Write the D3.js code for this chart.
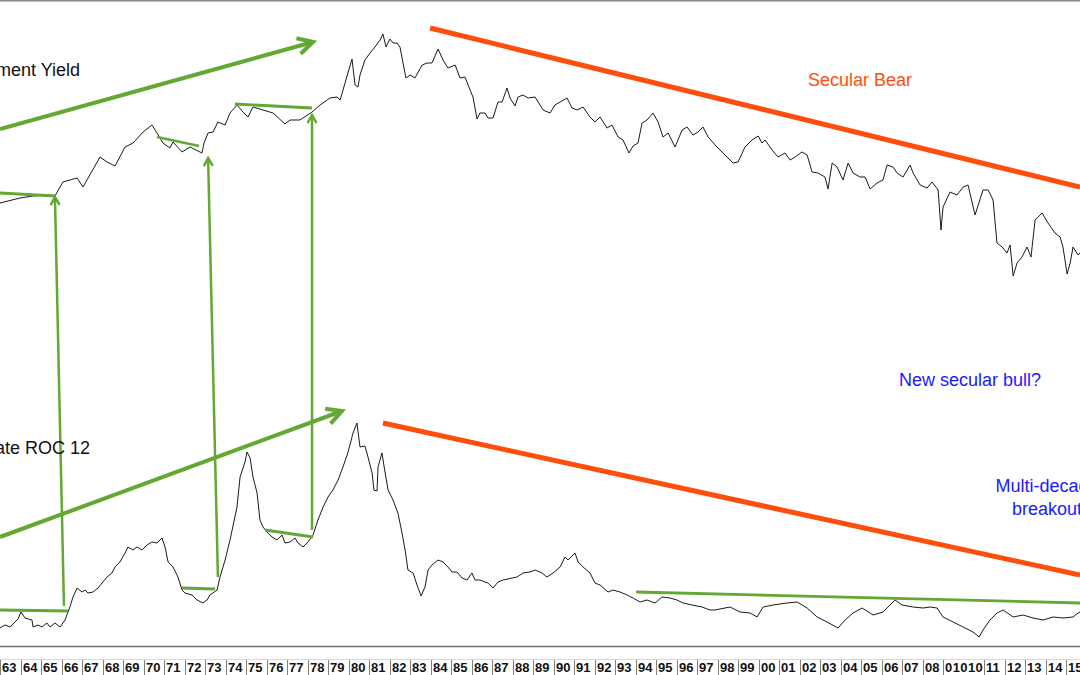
<!DOCTYPE html>
<html>
<head>
<meta charset="utf-8">
<script src="https://cdn.jsdelivr.net/npm/d3@7"></script>
<style>
  html, body { margin: 0; padding: 0; background: #fff; }
  svg { display: block; font-family: Arial, "Liberation Sans", sans-serif; }
</style>
</head>
<body>
<svg id="chart" width="1080" height="675"></svg>
<script>
// ---------- DATA ----------
// Upper panel: government bond yield (%)
const yieldDates = [1962.90,1963.88,1964.51,1965.34,1965.58,1965.97,1966.66,1966.95,1967.78,1968.12,1968.51,1969.00,1969.39,1969.88,1970.31,1970.56,1970.85,1971.19,1971.34,1971.78,1972.17,1972.75,1972.85,1973.05,1973.29,1973.53,1973.88,1974.12,1974.46,1974.75,1975.00,1975.24,1975.73,1976.22,1976.80,1977.05,1977.53,1978.12,1978.51,1979.00,1979.34,1979.49,1979.73,1980.07,1980.22,1980.36,1980.46,1980.70,1980.95,1981.19,1981.44,1981.58,1981.73,1981.92,1982.07,1982.27,1982.41,1982.70,1982.90,1983.14,1983.49,1983.73,1983.97,1984.27,1984.51,1984.75,1985.10,1985.34,1985.58,1985.83,1985.97,1986.17,1986.31,1986.56,1986.70,1986.95,1987.19,1987.39,1987.63,1987.78,1988.02,1988.17,1988.41,1988.66,1989.00,1989.39,1989.73,1989.97,1990.22,1990.56,1990.80,1991.05,1991.34,1991.68,1991.92,1992.17,1992.51,1992.75,1993.05,1993.29,1993.58,1993.78,1994.02,1994.22,1994.46,1994.75,1995.00,1995.24,1995.49,1995.83,1996.17,1996.41,1996.70,1996.95,1997.19,1997.44,1997.78,1998.02,1998.36,1998.66,1998.90,1999.24,1999.58,1999.88,2000.07,2000.22,2000.56,2000.85,2001.19,2001.44,2001.68,2002.02,2002.27,2002.51,2002.80,2003.14,2003.29,2003.49,2003.73,2004.02,2004.27,2004.51,2004.85,2005.10,2005.34,2005.68,2005.97,2006.17,2006.46,2006.66,2006.95,2007.29,2007.44,2007.78,2008.12,2008.36,2008.66,2008.80,2008.90,2009.24,2009.58,2009.88,2010.12,2010.46,2010.85,2011.10,2011.34,2011.53,2011.78,2012.02,2012.17,2012.32,2012.51,2012.75,2013.00,2013.19,2013.39,2013.73,2014.02,2014.36,2014.61,2014.75,2014.95,2015.10,2015.24,2015.49,2015.58];
const yieldValues = [4.85,5.10,5.20,5.25,5.20,5.90,6.10,5.65,7.15,6.90,6.70,7.65,7.85,8.40,8.75,8.35,7.85,7.60,7.90,7.40,7.65,7.35,7.85,8.35,8.40,8.90,8.75,9.35,9.75,9.40,9.15,9.65,9.50,9.35,8.80,9.00,9.00,9.40,9.75,10.10,10.15,10.00,10.85,12.05,10.75,10.65,11.25,12.00,12.35,12.65,13.00,13.30,12.65,13.05,12.85,12.85,12.65,11.10,11.25,11.10,11.75,11.85,11.85,12.55,12.00,11.60,11.75,11.10,11.15,10.50,10.15,9.05,9.35,9.35,9.10,9.10,9.90,9.90,10.60,10.10,9.70,10.15,10.25,10.10,10.15,9.50,9.35,9.75,9.90,10.10,9.60,9.50,9.65,9.15,8.90,9.15,8.60,8.75,8.15,8.00,7.35,7.70,7.85,8.85,9.00,9.35,8.90,8.15,8.35,7.65,8.50,8.65,8.25,8.40,8.65,8.15,7.75,7.50,7.15,6.85,6.90,7.65,8.00,8.20,7.85,8.00,7.50,7.15,7.35,7.00,7.15,7.40,7.25,6.40,6.35,6.15,5.55,6.85,6.65,6.00,6.85,6.35,6.15,6.15,5.55,5.85,6.00,6.75,6.65,6.35,6.15,6.75,6.35,5.75,5.60,5.90,5.50,3.50,4.65,5.40,5.25,5.65,5.75,4.25,5.50,5.50,5.00,2.85,2.65,2.35,2.75,1.20,1.85,2.15,2.65,2.15,4.00,4.35,3.85,3.35,3.15,2.65,1.30,1.85,2.65,2.25,2.35];

// Lower panel: inflation rate, 12-month rate of change (%)
const rocDates = [1962.90,1963.14,1963.39,1963.63,1963.78,1963.92,1964.12,1964.46,1964.51,1964.75,1964.95,1965.19,1965.34,1965.58,1965.83,1966.07,1966.31,1966.46,1966.66,1966.90,1967.05,1967.19,1967.44,1967.68,1967.88,1968.12,1968.36,1968.51,1968.75,1969.00,1969.14,1969.39,1969.58,1969.83,1970.07,1970.31,1970.56,1970.80,1970.95,1971.10,1971.34,1971.58,1971.78,1971.92,1972.27,1972.51,1972.80,1973.00,1973.14,1973.49,1973.63,1973.88,1974.12,1974.46,1974.61,1974.85,1974.95,1975.10,1975.24,1975.44,1975.58,1975.73,1975.92,1976.17,1976.41,1976.66,1976.80,1977.05,1977.29,1977.44,1977.68,1977.92,1978.17,1978.41,1978.66,1978.90,1979.14,1979.39,1979.63,1979.88,1980.12,1980.31,1980.46,1980.70,1980.85,1981.05,1981.14,1981.29,1981.34,1981.53,1981.68,1981.83,1982.07,1982.31,1982.51,1982.66,1982.80,1983.05,1983.24,1983.44,1983.63,1983.78,1983.97,1984.27,1984.51,1984.75,1984.95,1985.19,1985.44,1985.68,1985.92,1986.07,1986.31,1986.56,1986.70,1986.95,1987.19,1987.44,1987.88,1988.12,1988.41,1988.75,1989.00,1989.34,1989.58,1989.88,1990.22,1990.46,1990.61,1990.95,1991.10,1991.34,1991.68,1991.92,1992.17,1992.56,1992.80,1993.14,1993.49,1993.78,1994.12,1994.46,1994.71,1994.85,1995.19,1995.58,1995.92,1996.22,1996.66,1997.14,1997.53,1997.78,1998.02,1998.51,1999.00,1999.49,1999.83,2000.12,2000.61,2001.29,2001.78,2002.27,2002.76,2003.24,2003.78,2004.12,2004.51,2004.95,2005.49,2005.97,2006.41,2006.56,2006.90,2007.44,2007.93,2008.27,2008.61,2008.90,2009.39,2009.88,2010.36,2010.66,2010.85,2011.19,2011.53,2011.83,2012.32,2012.80,2013.29,2013.78,2014.27,2014.75,2015.24,2015.49,2015.58];
const rocValues = [-1.84,-1.60,-1.76,-1.36,-1.12,-0.56,-1.04,-1.20,-1.76,-1.60,-1.76,-1.44,-1.76,-1.44,-1.76,-1.20,-0.16,0.64,1.36,1.04,1.20,0.96,1.04,1.36,1.76,2.24,2.56,3.04,3.44,4.16,4.64,4.40,4.64,4.40,4.80,5.04,4.96,5.36,4.64,3.44,3.04,2.24,1.20,0.96,0.80,0.40,0.16,0.40,0.80,1.20,2.24,3.60,5.20,7.84,10.24,11.44,12.24,11.76,10.24,8.96,6.80,6.24,5.84,5.44,5.20,5.60,4.96,5.04,5.36,4.96,4.64,5.04,5.60,6.80,7.84,8.64,9.20,10.00,11.04,12.24,13.76,14.56,12.64,12.72,11.84,10.56,9.20,9.12,11.04,12.16,10.64,9.20,8.40,7.36,5.76,4.40,2.80,2.56,1.60,0.72,1.44,2.80,3.20,3.60,3.44,3.04,2.64,2.64,2.16,2.00,2.56,2.00,2.00,1.84,1.76,1.36,1.84,2.00,2.16,2.24,2.56,2.64,2.80,2.56,2.24,2.56,3.04,3.84,3.60,4.16,3.44,3.04,2.56,1.76,1.60,1.04,1.20,1.04,0.80,0.56,0.24,0.40,0.24,0.16,0.64,0.56,0.40,0.16,0.00,-0.16,-0.40,-0.40,-0.32,-0.16,-0.56,-0.64,-0.96,-0.16,0.00,0.16,0.24,-0.24,-0.96,-1.36,-1.84,-1.20,-0.64,-0.24,-0.80,-0.56,0.16,0.40,0.00,-0.16,-0.24,-0.16,-0.24,-0.96,-1.36,-1.76,-2.16,-2.56,-2.00,-1.20,-0.64,-0.40,-0.96,-0.80,-1.04,-1.20,-0.96,-1.04,-0.96,-0.64,-0.56];

// Axis tick labels (one box per year)
const tickYears = d3.range(1963, 2016);
const tickLabels = ["63","64","65","66","67","68","69","70","71","72","73","74","75","76","77","78","79","80","81","82","83","84","85","86","87","88","89","90","91","92","93","94","95","96","97","98","99","00","01","02","03","04","05","06","07","08","01010","","11","12","13","14","15"];

// Annotations: [date1, value1, date2, value2]
const upperTrend = [1962.90, 8.55, 1978.17, 12.90];
const upperFlats = [[1962.90, 5.35, 1965.58, 5.20], [1970.56, 8.15, 1972.61, 7.70], [1974.36, 9.80, 1978.12, 9.60]];
const upperBear = [1983.88, 13.60, 2015.58, 5.65];
const lowerTrend = [1962.90, 5.44, 1979.58, 15.52];
const lowerFlats = [[1962.90, -0.40, 1966.22, -0.48], [1971.78, 1.36, 1973.39, 1.28], [1975.83, 6.00, 1978.17, 5.44]];
const lowerBear = [1981.58, 14.56, 2015.58, 2.40];
const lowerSupport = [1993.93, 1.04, 2015.58, 0.16];
// vertical arrows: [date lower, value lower, date upper, value upper]
const breakoutArrows = [[1966.02, -0.08, 1965.58, 5.15], [1973.53, 2.24, 1973.05, 7.10], [1978.12, 6.00, 1978.12, 9.25]];

// ---------- DRAW ----------
const W = 1080, H = 675;
const svg = d3.select("#chart");
const GREEN = "#62a832", ORANGE = "#ff4e0c", BLUE = "#1a1aff";

const x = d3.scaleLinear().domain([1962.9, 2015.58]).range([0, W]);
const yU = d3.scaleLinear().domain([0, 15]).range([300, 0]);
const yL = d3.scaleLinear().domain([0, 10]).range([605, 480]);

const defs = svg.append("defs");
defs.append("marker").attr("id", "headBig")
  .attr("markerUnits", "userSpaceOnUse").attr("viewBox", "-20 -12 24 24")
  .attr("refX", 0).attr("refY", 0).attr("markerWidth", 24).attr("markerHeight", 24)
  .attr("orient", "auto")
  .append("path").attr("d", "M-15,-8 L0,0 L-15,8")
  .attr("fill", "none").attr("stroke", GREEN).attr("stroke-width", 4).attr("stroke-linejoin", "miter");
defs.append("marker").attr("id", "headSmall")
  .attr("markerUnits", "userSpaceOnUse").attr("viewBox", "-12 -8 16 16")
  .attr("refX", 0).attr("refY", 0).attr("markerWidth", 16).attr("markerHeight", 16)
  .attr("orient", "auto")
  .append("path").attr("d", "M-8,-4.5 L0,0 L-8,4.5")
  .attr("fill", "none").attr("stroke", GREEN).attr("stroke-width", 2.5);

// frame lines
svg.append("line").attr("x1", 0).attr("x2", W).attr("y1", 0.75).attr("y2", 0.75)
  .attr("stroke", "#8a8a8a").attr("stroke-width", 1.5);
svg.append("line").attr("x1", 0).attr("x2", W).attr("y1", 646.5).attr("y2", 646.5)
  .attr("stroke", "#6e6e6e").attr("stroke-width", 1.5);
svg.append("line").attr("x1", 0).attr("x2", W).attr("y1", 659.5).attr("y2", 659.5)
  .attr("stroke", "#d8d8d8").attr("stroke-width", 1);

// axis tick boxes
const axisG = svg.append("g");
tickYears.forEach((yr, i) => {
  if (tickLabels[i] === "") return;
  const xs = Math.round(x(yr) - 1.8) + 0.5;
  axisG.append("line").attr("x1", xs).attr("x2", xs).attr("y1", 660).attr("y2", 675)
    .attr("stroke", "#808080").attr("stroke-width", 1);
  axisG.append("text").attr("x", xs + 1.5).attr("y", 671.5)
    .attr("font-size", 13).attr("font-weight", "bold").attr("fill", "#111")
    .attr("letter-spacing", tickLabels[i].length > 2 ? 0.4 : 0)
    .text(tickLabels[i]);
});

// series lines
const upperData = yieldDates.map((d, i) => [d, yieldValues[i]]);
const lowerData = rocDates.map((d, i) => [d, rocValues[i]]);
svg.append("path").datum(upperData)
  .attr("d", d3.line().x(d => x(d[0])).y(d => yU(d[1])))
  .attr("fill", "none").attr("stroke", "#1a1a1a").attr("stroke-width", 1);
svg.append("path").datum(lowerData)
  .attr("d", d3.line().x(d => x(d[0])).y(d => yL(d[1])))
  .attr("fill", "none").attr("stroke", "#1a1a1a").attr("stroke-width", 1);

function seg(a, ys, color, width, marker) {
  const l = svg.append("line")
    .attr("x1", x(a[0])).attr("y1", ys(a[1]))
    .attr("x2", x(a[2])).attr("y2", ys(a[3]))
    .attr("stroke", color).attr("stroke-width", width).attr("stroke-linecap", "butt");
  if (marker) l.attr("marker-end", `url(#${marker})`);
  return l;
}

upperFlats.forEach(f => seg(f, yU, GREEN, 2.8));
lowerFlats.forEach(f => seg(f, yL, GREEN, 2.8));
seg(lowerSupport, yL, GREEN, 2.8);
seg(upperTrend, yU, GREEN, 4, "headBig");
seg(lowerTrend, yL, GREEN, 4, "headBig");
seg(upperBear, yU, ORANGE, 5);
seg(lowerBear, yL, ORANGE, 5);

breakoutArrows.forEach(a => {
  svg.append("line")
    .attr("x1", x(a[0])).attr("y1", yL(a[1]))
    .attr("x2", x(a[2])).attr("y2", yU(a[3]))
    .attr("stroke", GREEN).attr("stroke-width", 2.5)
    .attr("marker-end", "url(#headSmall)");
});

// texts
const txt = (t, xx, yy, color, anchor) => svg.append("text")
  .attr("x", xx).attr("y", yy).attr("fill", color).attr("font-size", 18)
  .attr("text-anchor", anchor || "start").text(t);
txt("Government Yield", 80, 76, "#111", "end");
txt("Inflation Rate ROC 12", 90, 454, "#111", "end");
txt("Secular Bear", 808, 86, ORANGE);
txt("New secular bull?", 899, 386, BLUE);
txt("Multi-decade", 1047, 492, BLUE, "middle");
txt("breakout", 1047, 515, BLUE, "middle");
</script>
</body>
</html>
